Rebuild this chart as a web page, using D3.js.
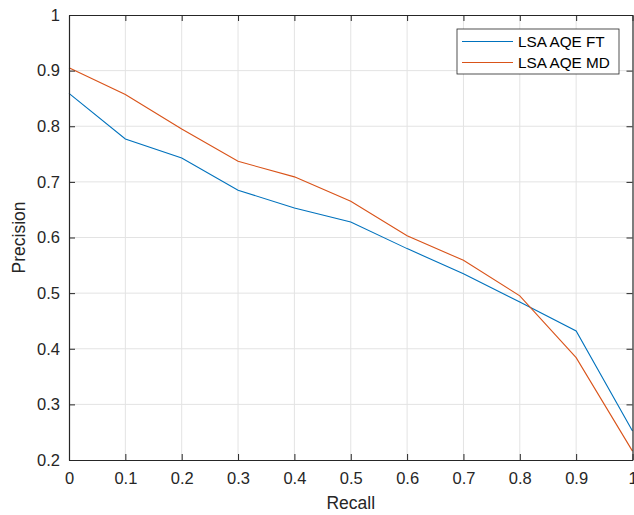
<!DOCTYPE html>
<html>
<head>
<meta charset="utf-8">
<script src="https://cdn.jsdelivr.net/npm/d3@7"></script>
<style>
  body { margin: 0; background: white; }
  svg { font-family: "Liberation Sans", Arial, Helvetica, sans-serif; }
</style>
</head>
<body>
<div id="chart"></div>
<script>
// recall levels and precision for each run
const recall = [0, 0.1, 0.2, 0.3, 0.4, 0.5, 0.6, 0.7, 0.8, 0.9, 1.0];
const precisionFT = [0.859, 0.777, 0.743, 0.685, 0.653, 0.628, 0.580, 0.535, 0.484, 0.432, 0.252];
const precisionMD = [0.905, 0.857, 0.795, 0.737, 0.709, 0.665, 0.603, 0.559, 0.495, 0.384, 0.216];
const seriesNames = ["LSA AQE FT", "LSA AQE MD"];
const seriesColors = ["#0072BD", "#D95319"];
const xTicks = [0, 0.1, 0.2, 0.3, 0.4, 0.5, 0.6, 0.7, 0.8, 0.9, 1];
const yTicks = [0.2, 0.3, 0.4, 0.5, 0.6, 0.7, 0.8, 0.9, 1];

const width = 634, height = 515;
const margin = { top: 15, right: 1, bottom: 55, left: 69 };
const axisColor = "#262626";

const svg = d3.select("#chart").append("svg")
    .attr("width", width)
    .attr("height", height);

const x = d3.scaleLinear().domain([0, 1]).range([margin.left, width - margin.right - 0.5]);
const y = d3.scaleLinear().domain([0.2, 1]).range([height - margin.bottom, margin.top]);

// grid
const grid = svg.append("g").attr("class", "grid");
grid.selectAll(".gx").data(xTicks.slice(1, -1)).enter().append("line")
    .attr("x1", d => x(d)).attr("x2", d => x(d))
    .attr("y1", y(0.2)).attr("y2", y(1))
    .attr("stroke", "#e3e3e3").attr("stroke-width", 1);
grid.selectAll(".gy").data(yTicks.slice(1, -1)).enter().append("line")
    .attr("x1", x(0)).attr("x2", x(1))
    .attr("y1", d => y(d)).attr("y2", d => y(d))
    .attr("stroke", "#e3e3e3").attr("stroke-width", 1);

// lines
const line = d3.line()
    .x((d, i) => x(recall[i]))
    .y(d => y(d));

[precisionFT, precisionMD].forEach(function (vals, k) {
    svg.append("path")
        .datum(vals)
        .attr("d", line)
        .attr("fill", "none")
        .attr("stroke", seriesColors[k])
        .attr("stroke-width", 1.1);
});

// axes with inward ticks, box on
const tickLen = 6;
const xAxisB = d3.axisBottom(x).tickValues(xTicks).tickSizeInner(-tickLen).tickSizeOuter(0)
    .tickPadding(12).tickFormat(d3.format("~g"));
const xAxisT = d3.axisTop(x).tickValues(xTicks).tickSizeInner(-tickLen).tickSizeOuter(0).tickFormat("");
const yAxisL = d3.axisLeft(y).tickValues(yTicks).tickSizeInner(-tickLen).tickSizeOuter(0)
    .tickPadding(9).tickFormat(d3.format("~g"));
const yAxisR = d3.axisRight(y).tickValues(yTicks).tickSizeInner(-tickLen).tickSizeOuter(0).tickFormat("");

function styleAxis(g) {
    g.selectAll("path").attr("stroke", axisColor).attr("stroke-width", 1.2);
    g.selectAll("line").attr("stroke", axisColor);
    g.selectAll("text").attr("fill", axisColor).style("font-size", "16.5px");
}

svg.append("g").attr("transform", "translate(0," + y(0.2) + ")").call(xAxisB).call(styleAxis);
svg.append("g").attr("transform", "translate(0," + y(1) + ")").call(xAxisT).call(styleAxis);
svg.append("g").attr("transform", "translate(" + x(0) + ",0)").call(yAxisL).call(styleAxis);
svg.append("g").attr("transform", "translate(" + x(1) + ",0)").call(yAxisR).call(styleAxis);
svg.selectAll(".domain").attr("stroke", axisColor);

// axis labels
svg.append("text")
    .attr("x", (x(0) + x(1)) / 2)
    .attr("y", 509)
    .attr("text-anchor", "middle")
    .attr("fill", axisColor)
    .style("font-size", "17.5px")
    .text("Recall");

svg.append("text")
    .attr("transform", "translate(25," + (y(0.2) + y(1)) / 2 + ") rotate(-90)")
    .attr("text-anchor", "middle")
    .attr("fill", axisColor)
    .style("font-size", "17.5px")
    .text("Precision");

// legend
const legend = svg.append("g").attr("transform", "translate(457,29)");
legend.append("rect")
    .attr("width", 162).attr("height", 45)
    .attr("fill", "white")
    .attr("stroke", axisColor).attr("stroke-width", 0.8);
seriesNames.forEach(function (name, k) {
    const ly = 12.5 + k * 21;
    legend.append("line")
        .attr("x1", 5).attr("x2", 56)
        .attr("y1", ly).attr("y2", ly)
        .attr("stroke", seriesColors[k]).attr("stroke-width", 1.1);
    legend.append("text")
        .attr("x", 61).attr("y", ly + 5.5)
        .attr("fill", "#000")
        .style("font-size", "15.3px")
        .text(name);
});
</script>
</body>
</html>
